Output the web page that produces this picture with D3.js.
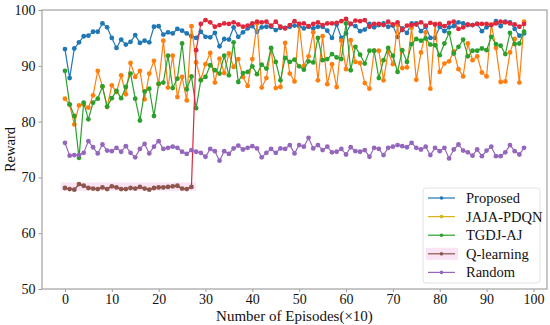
<!DOCTYPE html>
<html>
<head>
<meta charset="utf-8">
<script src="https://cdn.jsdelivr.net/npm/d3@7"></script>
<style>
  body { margin: 0; background: #fff; }
  svg { font-family: "Liberation Serif", "Times New Roman", serif; }
</style>
</head>
<body>
<div id="chart"></div>
<script>
// episodes (x10)
const episodes = d3.range(0, 99);
const xTicks = [0, 10, 20, 30, 40, 50, 60, 70, 80, 90, 100];
const yTicks = [50, 60, 70, 80, 90, 100];

const proposed = [93.0, 87.8, 93.1, 94.2, 95.3, 95.4, 96.1, 96.1, 97.6, 96.9,
  95.0, 93.2, 94.7, 93.8, 94.3, 95.5, 94.1, 94.5, 94.2, 97.0,
  97.1, 95.6, 96.0, 95.8, 96.6, 96.3, 95.8, 95.3, 95.0, 96.1,
  95.2, 95.1, 95.9, 93.5, 94.8, 94.7, 96.9, 95.2, 96.0, 96.7,
  97.1, 96.1, 96.9, 97.0, 97.0, 96.4, 96.8, 96.8, 97.0, 97.2,
  97.1, 96.7, 97.0, 96.7, 97.0, 97.0, 96.3, 95.0, 97.4, 95.0,
  95.8, 97.5, 97.1, 96.2, 96.5, 97.5, 96.9, 97.3, 97.6, 97.0,
  97.2, 95.2, 96.7, 95.9, 97.6, 97.6, 96.2, 97.0, 95.0, 95.0,
  97.0, 96.2, 96.9, 97.1, 97.8, 97.6, 97.3, 97.3, 97.5, 96.2,
  96.9, 97.3, 98.0, 97.1, 97.9, 97.8, 96.6, 95.4, 95.8];

const jajaPdqn = [84.1, 83.0, 79.5, 82.9, 83.1, 82.5, 84.7, 89.1, 86.3, 82.6,
  86.5, 85.3, 88.3, 84.9, 90.5, 88.0, 89.1, 84.0, 88.6, 90.9,
  86.7, 94.5, 86.1, 91.8, 84.4, 88.0, 83.8, 97.1, 90.6, 87.5,
  90.3, 92.3, 87.0, 91.3, 88.7, 92.2, 89.8, 91.2, 88.0, 86.4,
  91.2, 97.6, 86.1, 87.8, 93.1, 86.0, 86.2, 94.1, 88.6, 87.2,
  97.5, 90.0, 91.7, 96.0, 87.4, 95.3, 86.7, 90.3, 86.2, 94.5,
  89.4, 94.6, 90.7, 90.5, 86.9, 85.9, 92.7, 92.7, 87.4, 92.5,
  90.3, 97.3, 89.6, 89.7, 96.8, 87.5, 92.4, 96.0, 85.9, 97.5,
  88.9, 90.4, 90.8, 92.6, 89.4, 88.1, 94.0, 91.0, 91.7, 88.8,
  88.1, 97.4, 93.2, 87.1, 87.2, 92.4, 94.8, 87.0, 97.9];

const tgdjAj = [89.1, 83.1, 81.0, 73.5, 83.4, 80.4, 83.4, 84.1, 86.3, 82.7,
  84.2, 85.5, 84.2, 86.2, 88.6, 84.1, 80.2, 85.4, 85.9, 81.0,
  86.8, 87.0, 91.8, 86.0, 87.7, 94.0, 85.8, 88.1, 82.4, 87.4,
  88.0, 90.1, 89.2, 88.6, 91.8, 88.3, 94.2, 87.1, 88.7, 88.9,
  89.9, 88.5, 90.2, 89.5, 93.2, 90.7, 87.4, 91.4, 90.7, 91.1,
  89.9, 89.3, 90.8, 90.6, 95.0, 91.0, 91.2, 92.1, 91.5, 91.2,
  97.6, 89.2, 93.4, 92.0, 90.4, 92.7, 92.7, 87.8, 91.0, 93.2,
  91.8, 88.9, 92.8, 90.7, 93.9, 94.8, 94.5, 94.9, 93.8, 93.7,
  91.9, 94.0, 95.9, 92.2, 93.4, 94.7, 91.7, 92.7, 92.7, 93.1,
  92.8, 95.2, 93.9, 93.6, 92.1, 95.9, 93.9, 94.0, 96.1];

const qLearning = [68.1, 67.9, 67.8, 68.8, 68.5, 68.1, 68.0, 67.9, 68.2, 67.9,
  68.4, 68.2, 67.9, 67.9, 68.1, 68.0, 68.3, 68.0, 67.8, 68.1,
  68.2, 68.2, 68.3, 68.4, 68.5, 68.0, 67.9, 68.3, 92.8, 97.5,
  98.2, 97.8, 97.0, 97.3, 97.6, 97.5, 97.8, 97.4, 97.0, 97.2,
  97.6, 97.9, 97.8, 97.9, 97.2, 97.9, 97.0, 96.7, 97.3, 98.0,
  97.5, 97.6, 97.1, 97.5, 97.8, 97.3, 97.6, 97.6, 97.7, 98.0,
  98.4, 97.5, 98.1, 98.0, 98.2, 97.0, 97.5, 97.5, 97.3, 97.9,
  97.4, 97.8, 96.4, 97.2, 97.3, 97.4, 97.8, 97.2, 97.7, 97.4,
  97.5, 97.1, 97.7, 97.9, 96.6, 96.9, 97.4, 97.3, 97.5, 97.5,
  97.5, 97.3, 97.6, 97.9, 97.8, 97.6, 97.4, 97.0, 97.5];

const random = [76.2, 73.9, 74.0, 74.0, 74.4, 76.5, 75.4, 74.3, 75.9, 74.8,
  74.7, 75.3, 74.6, 75.6, 74.4, 73.6, 75.1, 76.0, 74.3, 75.5,
  76.5, 75.1, 75.3, 75.5, 75.3, 74.6, 74.2, 74.9, 74.6, 74.4,
  73.7, 75.1, 74.7, 73.0, 74.7, 74.2, 75.2, 75.7, 75.0, 75.3,
  75.6, 75.2, 73.6, 74.4, 75.1, 74.4, 75.2, 75.1, 75.8, 74.3,
  75.8, 75.5, 77.1, 75.2, 75.8, 74.9, 75.5, 74.5, 74.6, 75.1,
  74.1, 75.4, 74.7, 74.6, 74.9, 73.7, 75.3, 75.1, 74.0, 75.3,
  75.5, 75.8, 75.6, 75.4, 76.2, 75.3, 75.0, 75.5, 74.0, 75.3,
  74.7, 75.3, 73.4, 75.0, 75.9, 74.8, 74.5, 73.9, 75.0, 73.8,
  74.8, 75.5, 73.8, 73.8, 74.5, 75.8, 74.7, 74.1, 75.3];

// the Q-learning run switches colour after episode 27
const qSwitch = 28;

const series = [
  { name: "Proposed", values: proposed, color: "#1f77b4", legendColor: "#1f77b4" },
  { name: "JAJA-PDQN", values: jajaPdqn, color: "#ff7f0e", legendColor: "#d9b21c" },
  { name: "TGDJ-AJ", values: tgdjAj, color: "#2ca02c", legendColor: "#2ca02c" },
  { name: "Q-learning", values: qLearning, color: "#e0283c", legendColor: "#8c564b" },
  { name: "Random", values: random, color: "#9467bd", legendColor: "#9467bd" }
];

const width = 550, height = 325;
const margin = { top: 10, right: 3, bottom: 36, left: 42 };

const svg = d3.select("#chart").append("svg")
  .attr("width", width)
  .attr("height", height);

const x = d3.scaleLinear().domain([-4.9, 102.9]).range([margin.left, width - margin.right]);
const y = d3.scaleLinear().domain([50, 100]).range([height - margin.bottom, margin.top]);

// pink highlight behind the early Q-learning points
svg.append("rect")
  .attr("x", x(-0.9)).attr("y", y(69.1))
  .attr("width", x(28) - x(-0.9))
  .attr("height", y(67.6) - y(69.1))
  .attr("fill", "#fbe3f6");

// axes
const xAxis = svg.append("g")
  .attr("transform", "translate(0," + y(50) + ")")
  .call(d3.axisBottom(x).tickValues(xTicks).tickSize(3).tickPadding(2));
const yAxis = svg.append("g")
  .attr("transform", "translate(" + x.range()[0] + ",0)")
  .call(d3.axisLeft(y).tickValues(yTicks).tickSize(3.5).tickPadding(3));

[xAxis, yAxis].forEach(function(a) {
  a.select(".domain").remove();
  a.selectAll(".tick line").attr("stroke", "#999");
  a.selectAll(".tick text")
    .attr("font-family", "Liberation Serif")
    .attr("font-size", 14)
    .attr("fill", "#111");
});

// frame
svg.append("rect")
  .attr("x", x.range()[0]).attr("y", y(100))
  .attr("width", x.range()[1] - x.range()[0])
  .attr("height", y(50) - y(100))
  .attr("fill", "none")
  .attr("stroke", "#a8a8a8")
  .attr("stroke-width", 1.3);

const line = d3.line()
  .x(function(d, i) { return x(episodes[i]); })
  .y(function(d) { return y(d); });

series.forEach(function(s) {
  let g = svg.append("g");
  g.append("path")
    .datum(s.values)
    .attr("fill", "none")
    .attr("stroke", s.color)
    .attr("stroke-width", 1.2)
    .attr("d", line);
  g.selectAll("circle")
    .data(s.values)
    .enter().append("circle")
    .attr("cx", function(d, i) { return x(episodes[i]); })
    .attr("cy", function(d) { return y(d); })
    .attr("r", 2.4)
    .attr("fill", function(d, i) {
      if (s.name === "Q-learning" && i < qSwitch) return "#8c564b";
      return s.color;
    });
  if (s.name === "Q-learning") {
    // early segment drawn in brown
    g.insert("path", "circle")
      .datum(s.values.slice(0, qSwitch))
      .attr("fill", "none")
      .attr("stroke", "#8c564b")
      .attr("stroke-width", 1.2)
      .attr("d", line);
  }
});

// axis titles
svg.append("text")
  .attr("x", (x.range()[0] + x.range()[1]) / 2)
  .attr("y", 321)
  .attr("text-anchor", "middle")
  .attr("font-size", 15)
  .attr("fill", "#111")
  .text("Number of Episodes(×10)");

svg.append("text")
  .attr("transform", "translate(12," + ((y(50) + y(100)) / 2) + ") rotate(-90)")
  .attr("text-anchor", "middle")
  .attr("dominant-baseline", "middle")
  .attr("font-size", 14.5)
  .attr("fill", "#111")
  .text("Reward");

// legend
const legend = svg.append("g").attr("transform", "translate(423,188)");
legend.append("rect")
  .attr("width", 117).attr("height", 95)
  .attr("rx", 3)
  .attr("fill", "#fff")
  .attr("stroke", "#e2e2e2");

series.forEach(function(s, i) {
  let row = legend.append("g").attr("transform", "translate(0," + (10 + i * 18.6) + ")");
  if (s.name === "Q-learning") {
    row.append("rect")
      .attr("x", 3).attr("y", -6)
      .attr("width", 32).attr("height", 12)
      .attr("fill", "#fbe3f6");
  }
  row.append("line")
    .attr("x1", 5).attr("x2", 32)
    .attr("stroke", s.legendColor)
    .attr("stroke-width", 1.2);
  row.append("circle")
    .attr("cx", 18.5).attr("r", 1.8)
    .attr("fill", s.legendColor);
  row.append("text")
    .attr("x", 43).attr("y", 0)
    .attr("dominant-baseline", "central")
    .attr("font-size", 14.5)
    .attr("fill", "#111")
    .text(s.name);
});
</script>
</body>
</html>
